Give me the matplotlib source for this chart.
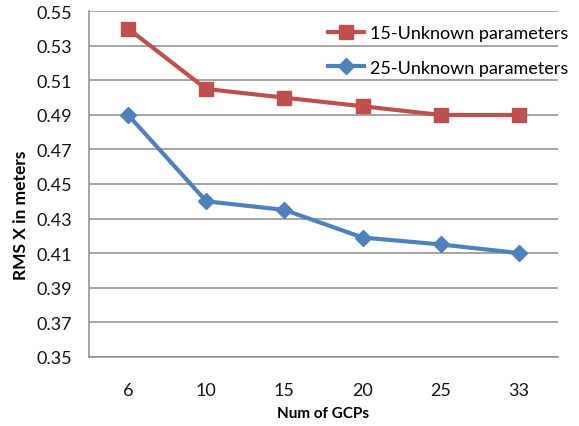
import matplotlib
matplotlib.use("Agg")
import matplotlib.pyplot as plt

plt.rcParams['font.family'] = ['Lato', 'DejaVu Sans']

gcps = ['6', '10', '15', '20', '25', '33']
rms_15 = [0.54, 0.505, 0.50, 0.495, 0.49, 0.49]
rms_25 = [0.49, 0.44, 0.435, 0.419, 0.415, 0.41]
yticks = [0.35, 0.37, 0.39, 0.41, 0.43, 0.45, 0.47, 0.49, 0.51, 0.53, 0.55]

W, H = 579, 427
fig = plt.figure(figsize=(W / 100, H / 100), dpi=100)
ax = fig.add_axes([89 / W, (H - 357.7) / H, 469 / W, 345.4 / H])

x = list(range(len(gcps)))
ax.plot(x, rms_15, color='#C0504D', lw=3, marker='s', ms=10.5,
        label='15-Unknown parameters', zorder=3)
ax.plot(x, rms_25, color='#4F81BD', lw=3, marker='D', ms=8.5,
        label='25-Unknown parameters', zorder=3)

ax.set_xlim(-0.5, len(gcps) - 0.5)
ax.set_ylim(0.35, 0.55)
ax.set_yticks(yticks)
ax.set_yticklabels([f'{v:.2f}' for v in yticks])
ax.set_xticks(x)
ax.set_xticklabels(gcps)
ax.yaxis.grid(True, color='#8C8C8C', lw=1.1)
ax.set_axisbelow(True)
ax.tick_params(length=0, labelsize=13, colors='#141414')
ax.tick_params(axis='y', pad=12)
ax.tick_params(axis='x', pad=18)
for s in ['top', 'right']:
    ax.spines[s].set_visible(False)
for s in ['left', 'bottom']:
    ax.spines[s].set_color('#8C8C8C')
    ax.spines[s].set_linewidth(1.1)

ax.set_ylabel('RMS X in meters', fontsize=12.5, fontweight='bold')
ax.yaxis.set_label_coords(-60 / 469, (357.7 - 215) / 345.4)
ax.set_xlabel('Num of GCPs', fontsize=11, fontweight='bold', labelpad=6)

ax.legend(loc='upper left', bbox_to_anchor=(328 / W, (H - 26.5) / H),
          bbox_transform=fig.transFigure, frameon=False, fontsize=13,
          handlelength=2.0, handletextpad=0.3, labelspacing=1.0,
          borderpad=0, borderaxespad=0)

fig.savefig('out.png', dpi=100)
